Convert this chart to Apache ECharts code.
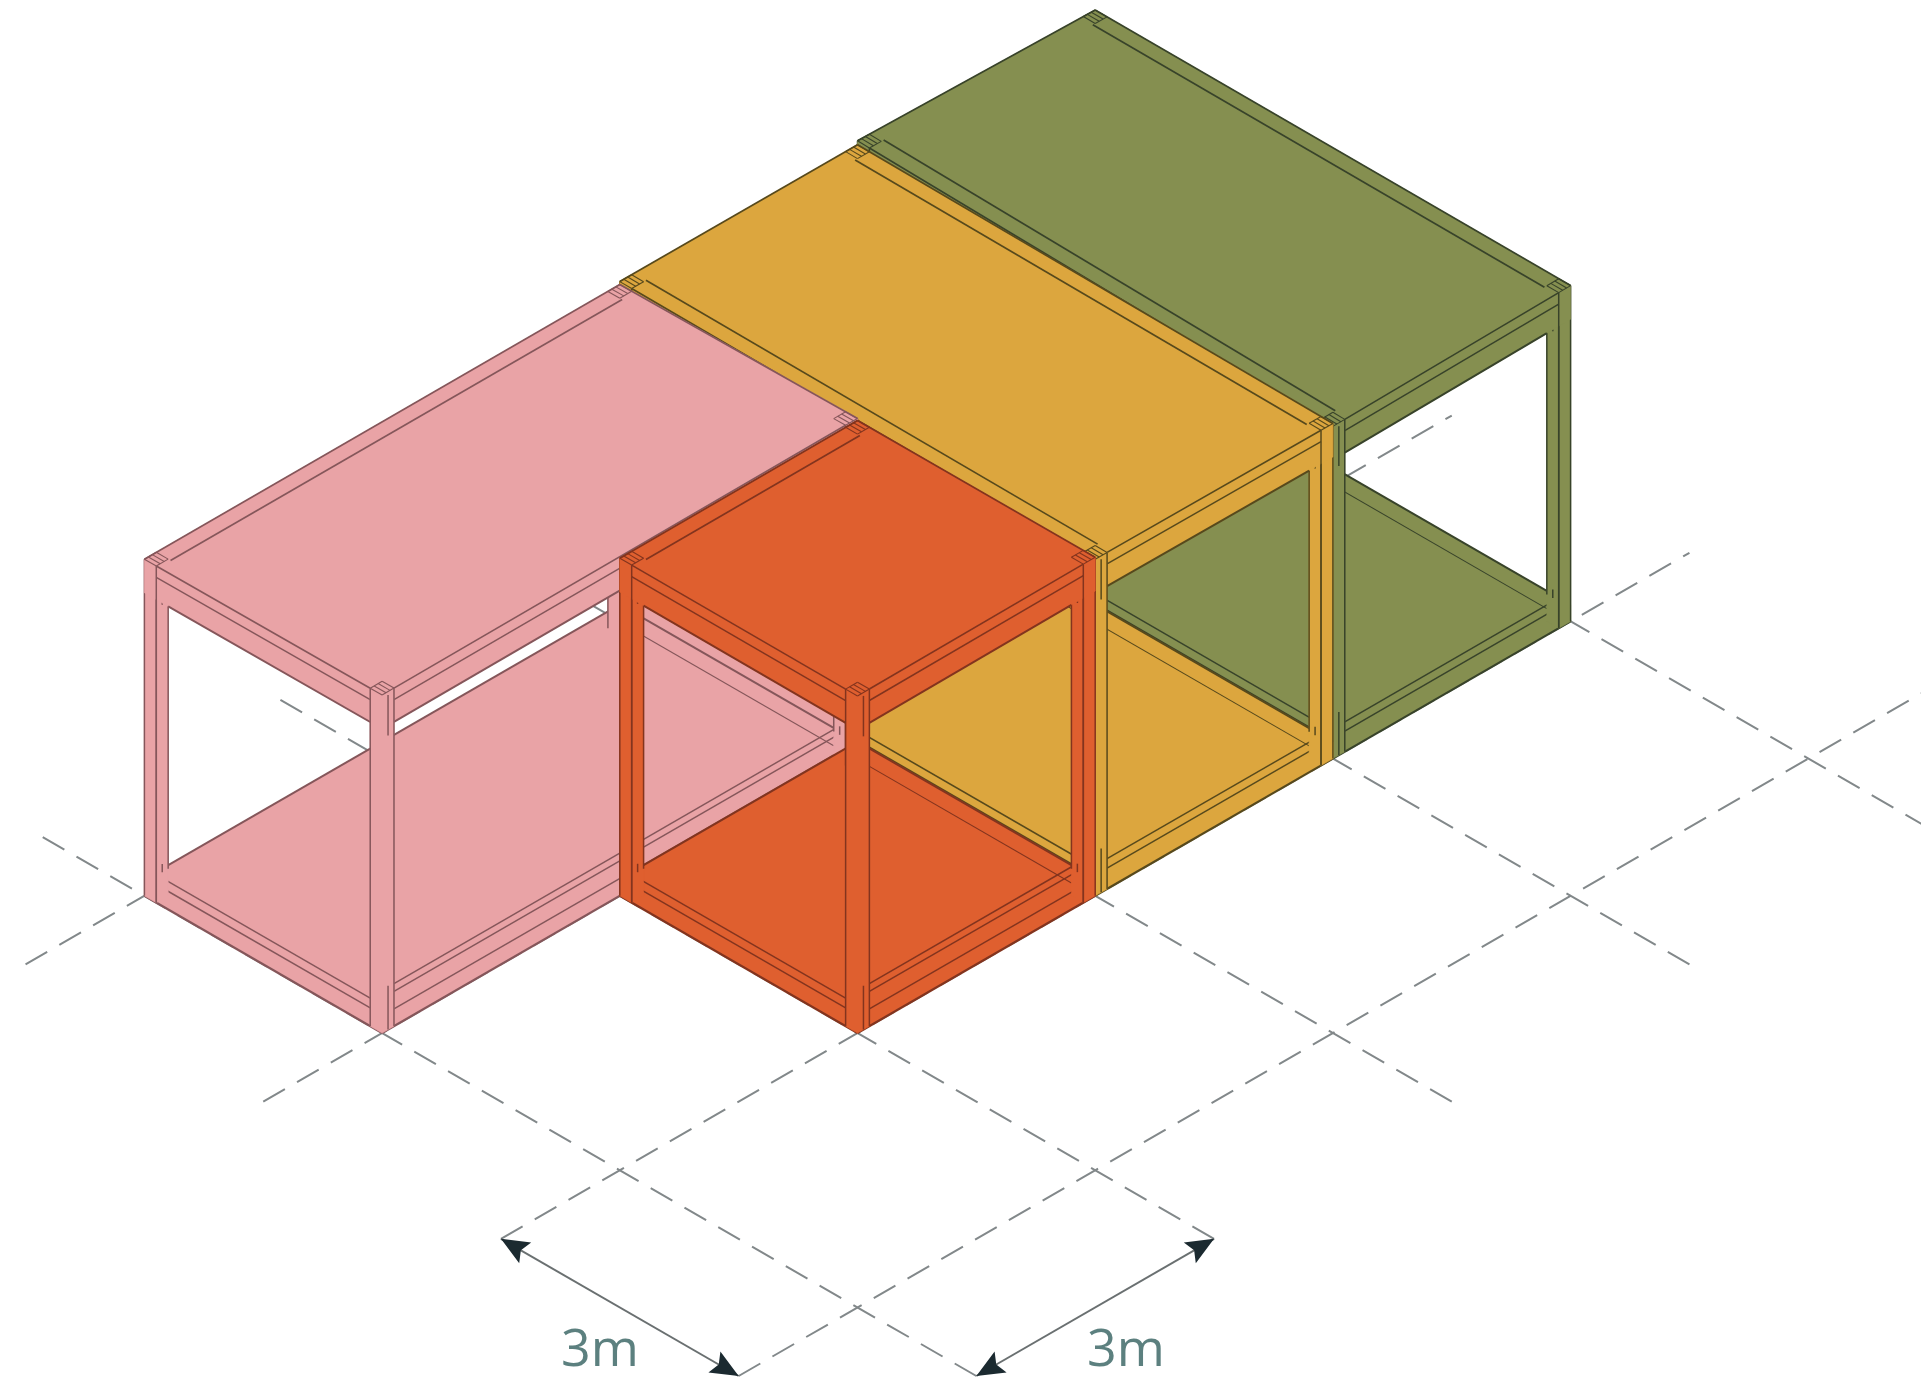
<!DOCTYPE html>
<html>
<head>
<meta charset="utf-8">
<style>html,body{margin:0;padding:0;background:#fff}#c{width:1921px;height:1384px}</style>
<script src="https://cdn.jsdelivr.net/npm/echarts@6/dist/echarts.min.js"></script>
</head>
<body>
<div id="c"></div>
<script>
// ---- data: everything is in module grid units (1 unit = 3 m) ----
const moduleNames = ['green', 'yellow', 'pink', 'orange'];   // back to front
const moduleI0 = [2, 1, -1, 0];
const moduleI1 = [3, 2, 1, 1];
const moduleJ0 = [0, 0, 1, 0];
const moduleJ1 = [2, 2, 2, 1];
// small measured height deviations of the roof corners
const roofDy = [[12, 6, 0, -4], [10, 9, 0, 2], [11, 4, 5, 10], [12, 8, 6, 9]];
const setoutJ = [-1, 0, 1, 2];          // dashed lines running along i
const setoutI = [-1, 0, 1, 2, 3];       // dashed lines running along j
const setoutIRange = [-1.5, 3.5];
const setoutJRange = [-1.5, 2.46];
const dimFrom = [[-1.5, 0], [0, -1.5]];
const dimTo = [[-1.5, -1], [-1, -1.5]];
const dimLabels = ['3m', '3m'];

// ---- styles ----
const fills = {green: '#858F50', yellow: '#DCA63E', pink: '#E9A3A6', orange: '#DF5F2F'};
const inks = {green: '#38432A', yellow: '#57491C', pink: '#85565A', orange: '#83341E'};
const sillZ = {green: [.062, .09], yellow: [.062, .09], pink: [.051, .103, .126], orange: [.051, .103, .126]};
const roofBands = {green: 'i', yellow: 'i', pink: 'j', orange: 'j'};
const closedEnd = {pink: true};

// ---- isometric projection onto the pixel-scaled hidden axes ----
const O = [857.5, 1033], A = [237.7, -137.2], B = [-237.7, -137.2];
const T = [857.5, 684], AT = [237.7, -134.8], BT = [-237.7, -134.8];
const t = .05, beamZ = .9, floorZ = .05;

function ground(i, j) { return [O[0] + i * A[0] + j * B[0], O[1] + i * A[1] + j * B[1]]; }
function project(m, i, j, z) {
  const u = (i - moduleI0[m]) / (moduleI1[m] - moduleI0[m]);
  const v = (j - moduleJ0[m]) / (moduleJ1[m] - moduleJ0[m]);
  const d = roofDy[m];
  const dy = d[0] * (1 - u) * (1 - v) + d[1] * u * (1 - v) + d[2] * u * v + d[3] * (1 - u) * v;
  const g = ground(i, j);
  const top = [T[0] + i * AT[0] + j * BT[0], T[1] + i * AT[1] + j * BT[1] + dy];
  return [g[0] + (top[0] - g[0]) * z, g[1] + (top[1] - g[1]) * z];
}

function renderModule(params, api) {
  const m = params.dataIndex, name = moduleNames[m];
  const fill = fills[name], ink = inks[name];
  const i0 = moduleI0[m], i1 = moduleI1[m], j0 = moduleJ0[m], j1 = moduleJ1[m];
  const P = (i, j, z) => api.coord(project(m, i, j, z));
  const kids = [];
  const poly = pts => kids.push({type: 'polygon', shape: {points: pts.map(p => P(p[0], p[1], p[2]))}, style: {fill: fill, stroke: fill, lineWidth: .6}});
  const ln = (p, q, w) => kids.push({type: 'polyline', shape: {points: [P(p[0], p[1], p[2]), P(q[0], q[1], q[2])]}, style: {stroke: ink, lineWidth: w || 1.5, fill: null}});
  const column = (ci, cj) => {
    poly([[ci, cj + t, 0], [ci, cj, 0], [ci + t, cj, 0], [ci + t, cj, 1], [ci + t, cj + t, 1], [ci, cj + t, 1]]);
  };
  const joint = (a, b) => {
    ln([a, b, 1], [a + t, b, 1], 1.1);
    ln([a + t, b, 1], [a + t, b + t, 1], 1.1);
    ln([a + t, b + t, 1], [a, b + t, 1], 1.1);
    ln([a, b + t, 1], [a, b, 1], 1.1);
    ln([a + t / 3, b, 1], [a + t / 3, b + t, 1], 1.1);
    ln([a + 2 * t / 3, b, 1], [a + 2 * t / 3, b + t, 1], 1.1);
  };

  // solid end wall
  if (closedEnd[name]) poly([[i1, j0, 0], [i1, j1, 0], [i1, j1, 1], [i1, j0, 1]]);

  // floor
  poly([[i0, j0, 0], [i1, j0, 0], [i1, j0, floorZ], [i1, j1, floorZ], [i0, j1, floorZ], [i0, j1, 0]]);
  ln([i1, j0, floorZ], [i1, j1, floorZ], 2);
  ln([i0, j1, floorZ], [i1, j1, floorZ], 2);
  ln([i1 - t, j0 + t, floorZ - .012], [i1 - t, j1, floorZ - .012], 1.1);
  [.054, .083].forEach(z => ln([i0, j0 + t, z], [i0, j1 - t, z]));
  sillZ[name].forEach(z => ln([i0 + t, j0, z], [i1 - t, j0, z]));
  ln([i0, j0, 0], [i1, j0, 0], 2.2);
  ln([i0, j0, 0], [i0, j1, 0], 2.2);

  // rear and side columns
  column(i1 - t, j1 - t);
  ln([i1 - t, j1, 0], [i1 - t, j1, 1]);
  column(i0, j1 - t);
  ln([i0, j1 - t, 0], [i0, j1 - t, 1]);
  ln([i0, j1, 0], [i0, j1, 1], 1.5);
  ln([i0 + t, j1 - t, floorZ + .03], [i0 + t, j1 - t, beamZ]);
  ln([i0 + t / 2, j1 - t, beamZ], [i0 + t / 2, j1 - t, beamZ - .025]);
  ln([i0 + t / 2, j1 - t, floorZ + .03], [i0 + t / 2, j1 - t, floorZ + .055]);
  column(i1 - t, j0);
  ln([i1 - t, j0, 0], [i1 - t, j0, 1]);
  ln([i1 - t, j0 + t, floorZ + .03], [i1 - t, j0 + t, beamZ]);
  ln([i1, j0, 0], [i1, j0, 1], 1.5);
  ln([i1 - t, j0 + t / 2, beamZ], [i1 - t, j0 + t / 2, beamZ - .025]);
  ln([i1 - t, j0 + t / 2, floorZ + .03], [i1 - t, j0 + t / 2, floorZ + .055]);

  // roof with its fascia beams
  poly([[i0, j1, 1], [i1, j1, 1], [i1, j0, 1], [i1, j0, beamZ], [i0, j0, beamZ], [i0, j1, beamZ]]);
  ln([i0, j1, 1], [i1, j1, 1], 1.7);
  ln([i1, j1, 1], [i1, j0, 1], 1.7);
  ln([i0, j1 - t, 1], [i0, j0 + t, 1], 1.6);
  ln([i0 + t, j0, 1], [i1 - t, j0, 1], 1.6);
  ln([i0, j0 + t, .966], [i0, j1 - t, .966]);
  ln([i0 + t, j0, .966], [i1 - t, j0, .966]);
  ln([i0, j0 + t, beamZ], [i0, j1 - 2 * t, beamZ], 2);
  ln([i0 + t, j0, beamZ], [i1 - 2 * t, j0, beamZ], 2);
  if (roofBands[name] === 'i') {
    ln([i0 + .06, j0 + t, 1], [i0 + .06, j1 - t, 1], 1.7);
    ln([i1 - .06, j0 + t, 1], [i1 - .06, j1 - t, 1], 1.7);
  } else {
    ln([i0 + t, j1 - .06, 1], [i1 - t, j1 - .06, 1], 1.7);
  }
  // joint marks at the roof corners
  joint(i0, j1 - t);
  joint(i1 - t, j1 - t);
  joint(i1 - t, j0);
  ln([i0, j1 - t, 0], [i0, j1 - t, 1]);
  ln([i1 - t, j0, 0], [i1 - t, j0, 1]);

  // front corner column
  column(i0, j0);
  ln([i0, j0 + t, 0], [i0, j0 + t, 1]);
  ln([i0 + t, j0, 0], [i0 + t, j0, 1]);
  ln([i0 + t / 2, j0, .99], [i0 + t / 2, j0, .87]);
  ln([i0 + t / 2, j0, 0], [i0 + t / 2, j0, .13]);
  joint(i0, j0);
  return {type: 'group', children: kids};
}

const setoutSegments = [];
setoutJ.forEach(j => setoutSegments.push([setoutIRange[0], j, setoutIRange[1], j]));
setoutI.forEach(i => setoutSegments.push([i, setoutJRange[0], i, setoutJRange[1]]));

function renderSetout(params, api) {
  const s = setoutSegments[params.dataIndex];
  return {type: 'polyline', shape: {points: [api.coord(ground(s[0], s[1])), api.coord(ground(s[2], s[3]))]},
    style: {stroke: '#82888A', lineWidth: 2, lineDash: [25, 14], fill: null}};
}

function arrowHead(tip, from) {
  const dx = tip[0] - from[0], dy = tip[1] - from[1], L = Math.hypot(dx, dy), ux = dx / L, uy = dy / L;
  const nx = -uy, ny = ux, len = 28, w = 12, notch = 23;
  return [tip,
    [tip[0] - ux * len + nx * w, tip[1] - uy * len + ny * w],
    [tip[0] - ux * notch, tip[1] - uy * notch],
    [tip[0] - ux * len - nx * w, tip[1] - uy * len - ny * w]];
}

function renderDim(params, api) {
  const k = params.dataIndex;
  const p = api.coord(ground(dimFrom[k][0], dimFrom[k][1]));
  const q = api.coord(ground(dimTo[k][0], dimTo[k][1]));
  return {type: 'group', children: [
    {type: 'polyline', shape: {points: [p, q]}, style: {stroke: '#6A7071', lineWidth: 2, fill: null}},
    {type: 'polygon', shape: {points: arrowHead(p, q)}, style: {fill: '#1B2A30'}},
    {type: 'polygon', shape: {points: arrowHead(q, p)}, style: {fill: '#1B2A30'}}
  ]};
}

const labelX = [600, 1126], labelY = [1351, 1351];

const chart = echarts.init(document.getElementById('c'), null, {renderer: 'canvas'});
chart.setOption({
  animation: false,
  backgroundColor: '#ffffff',
  grid: {left: 0, right: 0, top: 0, bottom: 0},
  xAxis: {type: 'value', min: 0, max: 1921, show: false},
  yAxis: {type: 'value', min: 0, max: 1384, inverse: true, show: false},
  series: [
    {type: 'custom', silent: true, z: 1, clip: true, coordinateSystem: 'cartesian2d', data: setoutSegments.map((s, k) => [k, 0]), encode: {x: 0, y: 1}, renderItem: renderSetout},
    {type: 'custom', silent: true, z: 2, clip: true, coordinateSystem: 'cartesian2d', data: moduleNames.map((s, k) => [k, 0]), encode: {x: 0, y: 1}, renderItem: renderModule},
    {type: 'custom', silent: true, z: 3, clip: true, coordinateSystem: 'cartesian2d', data: dimLabels.map((s, k) => [k, 0]), encode: {x: 0, y: 1}, renderItem: renderDim},
    {type: 'scatter', silent: true, z: 4, symbolSize: 0,
      data: dimLabels.map((s, k) => ({value: [labelX[k], labelY[k]], name: s})),
      label: {show: true, position: 'inside', formatter: '{b}', color: '#33605F', fontFamily: '"Open Sans"', fontSize: 52, fontWeight: 400}}
  ]
});
</script>
</body>
</html>
